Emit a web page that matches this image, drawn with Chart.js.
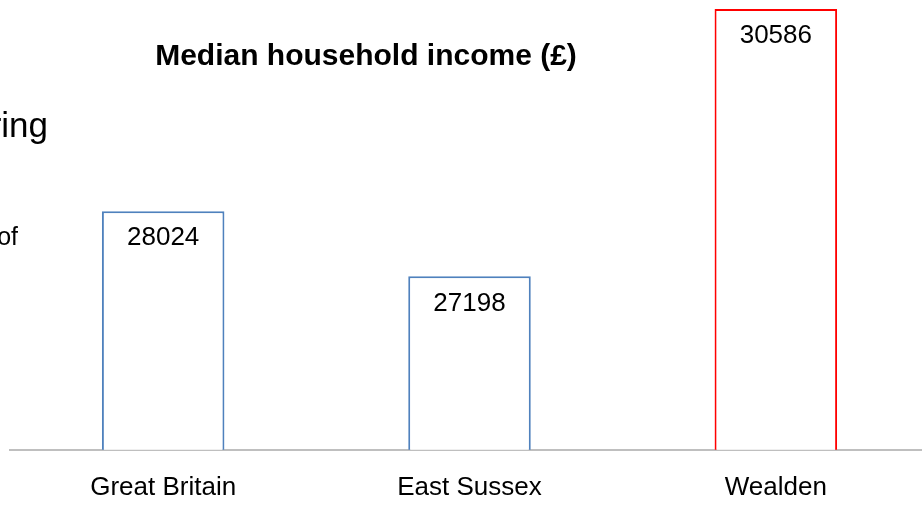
<!DOCTYPE html>
<html>
<head>
<meta charset="utf-8">
<script src="https://cdn.jsdelivr.net/npm/chart.js@4.4.0/dist/chart.umd.min.js"></script>
<style>
  html, body { margin: 0; padding: 0; background: #fff; overflow: hidden; }
  #wrap { width: 922px; height: 506px; overflow: hidden; }
</style>
</head>
<body>
<div id="wrap"><canvas id="incomeChart" width="930" height="534"></canvas></div>
<script>
// Median household income (£)
const areas = ['Great Britain', 'East Sussex', 'Wealden'];
const incomes = [28024, 27198, 30586];
const edgeColours = ['#4f81bd', '#4f81bd', '#ff0000'];

const FONT = '"Liberation Sans", Arial, sans-serif';

// titulo y etiquetas de valor dibujados a mano
const textPlugin = {
    id: 'textPlugin',
    afterDatasetsDraw(chart) {
        const ctx = chart.ctx;
        ctx.save();
        ctx.fillStyle = '#000';
        ctx.textAlign = 'center';
        ctx.textBaseline = 'middle';

        ctx.font = 'bold 30px ' + FONT;
        ctx.fillText('Median household income (£)', 366, 57);

        ctx.font = '26px ' + FONT;
        const meta = chart.getDatasetMeta(0);
        meta.data.forEach((bar, i) => {
            ctx.fillText(String(incomes[i]), bar.x, bar.y + 27);
        });

        // restos de texto de la diapositiva
        ctx.textAlign = 'right';
        ctx.textBaseline = 'alphabetic';
        ctx.font = '35px ' + FONT;
        ctx.fillText('ring', 48, 137);
        ctx.font = '25px ' + FONT;
        ctx.fillText('of', 18, 245);
        ctx.restore();
    }
};

new Chart(document.getElementById('incomeChart'), {
    type: 'bar',
    data: {
        labels: areas,
        datasets: [{
            data: incomes,
            backgroundColor: '#ffffff',
            borderColor: edgeColours,
            borderWidth: 2,
            barPercentage: 0.4,
            categoryPercentage: 1.0
        }]
    },
    options: {
        responsive: false,
        animation: false,
        layout: { padding: { left: 10, right: 1, top: 9, bottom: 9 } },
        plugins: {
            legend: { display: false },
            tooltip: { enabled: false }
        },
        scales: {
            x: {
                grid: { display: false, drawTicks: false },
                border: { display: true, color: '#bfbfbf', width: 2 },
                ticks: { color: '#000', font: { family: FONT, size: 26 }, padding: 22 }
            },
            y: {
                display: false,
                min: 25000,
                max: 30586
            }
        }
    },
    plugins: [textPlugin]
});
</script>
</body>
</html>
